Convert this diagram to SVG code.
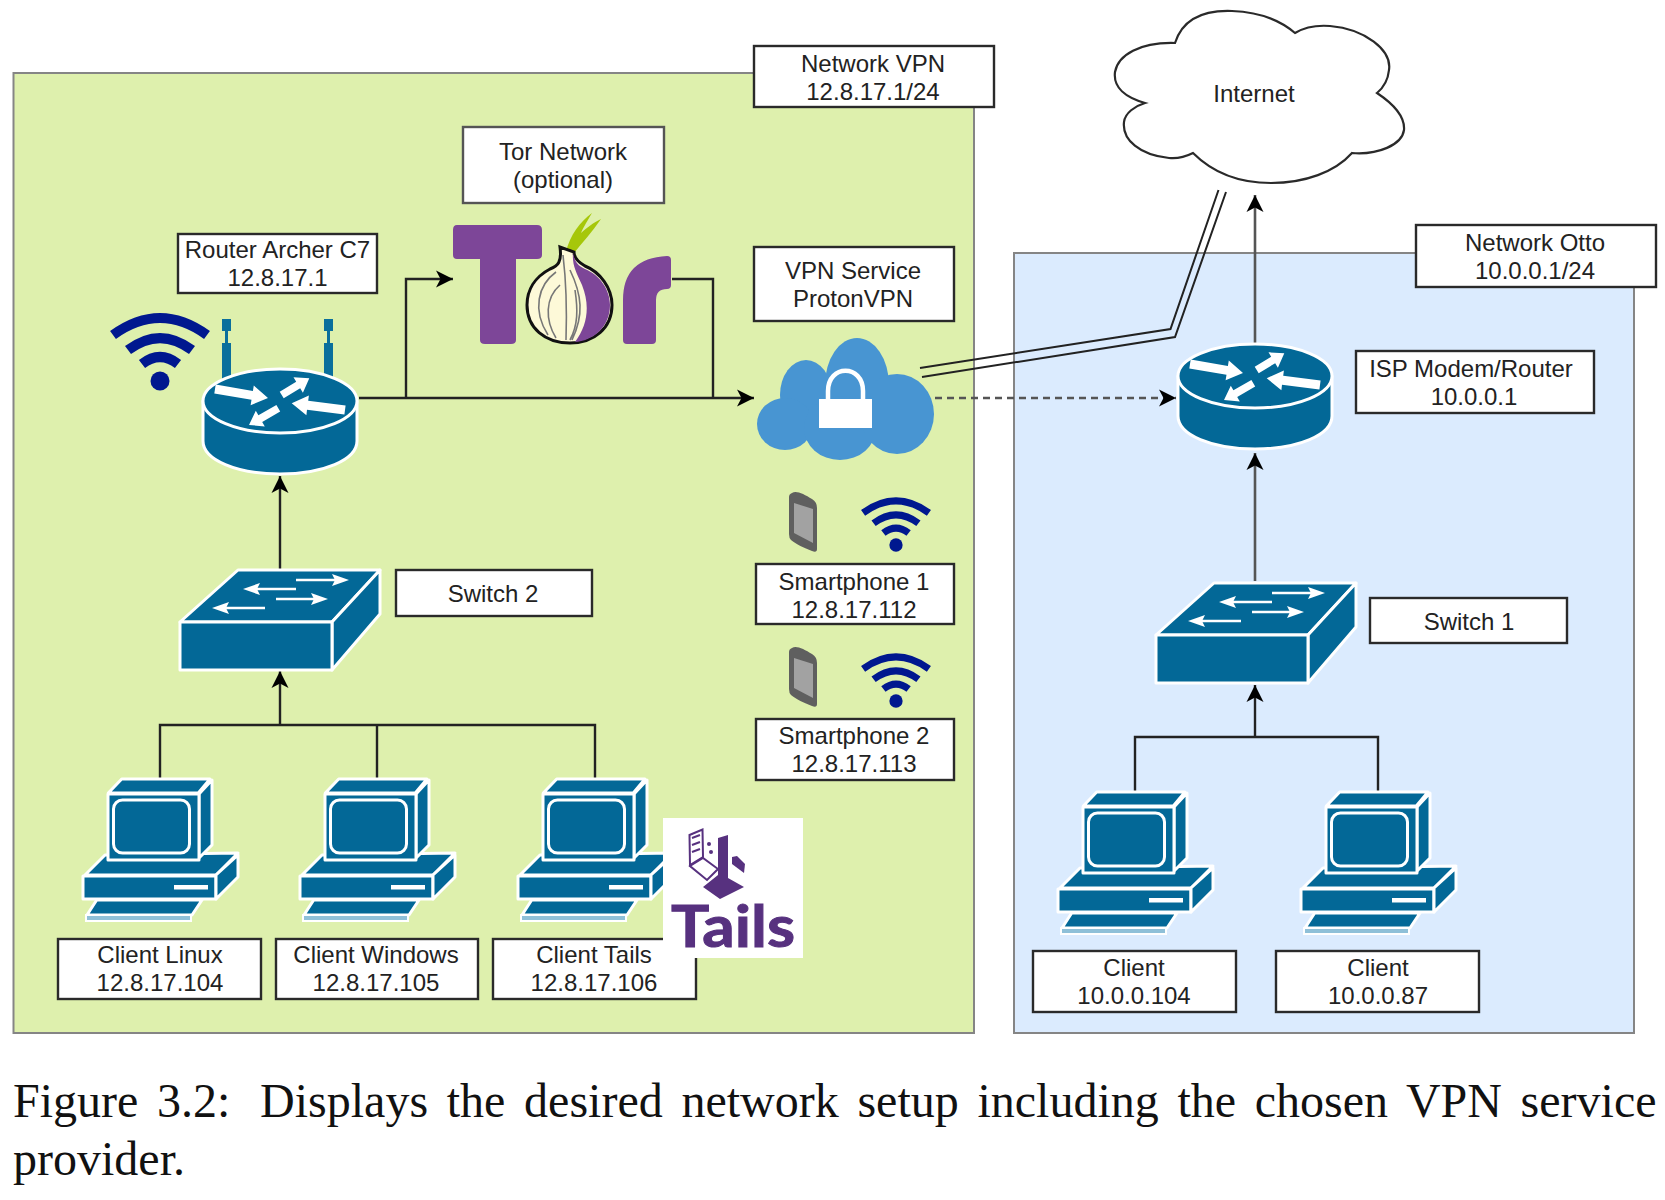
<svg xmlns="http://www.w3.org/2000/svg" width="1665" height="1200" viewBox="0 0 1665 1200">
<style>
.lbl{fill:#fff;stroke:#2a2a2a;stroke-width:2.4}
.lg{stroke:#555}
.t{font-family:"Liberation Sans",Arial,sans-serif;font-size:24px;fill:#222;text-anchor:middle}
.cap{font-family:"Liberation Serif","Times New Roman",serif;font-size:48px;fill:#111}
.ico{fill:#036897;stroke:#fff;stroke-width:3;stroke-linejoin:round}
.wh{fill:#fff}
.c{fill:none;stroke:#222;stroke-width:2.4}
.g{fill:none;stroke:#555;stroke-width:2.6}
.w{fill:none;stroke:#00188f;stroke-width:10}
</style>
<defs>
<marker id="ah" markerUnits="userSpaceOnUse" markerWidth="19" markerHeight="19" refX="17" refY="9" orient="auto"><path d="M17,9 L0,0.5 L4.500,9 L0,17.500 Z" fill="#000"/></marker>
<g id="antennas">
<rect x="222" y="319" width="9" height="12" fill="#0a6f9c"/><rect x="225" y="331" width="3" height="13" fill="#0a6f9c"/><rect x="222" y="343" width="9" height="36" fill="#0a6f9c"/>
<rect x="324" y="319" width="9" height="12" fill="#0a6f9c"/><rect x="327" y="331" width="3" height="13" fill="#0a6f9c"/><rect x="324" y="343" width="9" height="36" fill="#0a6f9c"/>
</g>
<g id="routerIcon">
<path class="ico" d="M203,401 V441 C203,460 237,474 280,474 C323,474 357,460 357,441 V401 Z"/>
<ellipse class="ico" cx="280" cy="401" rx="77" ry="32"/>
<polygon class="wh" points="215.700,384.600 252.900,391 253.800,385.500 268,398 250.600,405.300 251.500,399.800 214.300,393.400"/>
<polygon class="wh" points="279.700,391.800 296.200,381.800 293.500,377.300 309.300,378.300 302.900,392.700 300.200,388.200 283.700,398.200"/>
<polygon class="wh" points="345.600,405.500 308.200,400.800 308.900,395.400 291.700,403.300 306.400,415.200 307,409.800 344.400,414.500"/>
<polygon class="wh" points="276.400,405 258.400,415.300 255.800,410.800 249,425 264.800,426.400 262.200,421.900 280.200,411.600"/>
</g>
<g id="switchIcon">
<polygon class="ico" points="180,622 238,570 380,570 332,622"/>
<polygon class="ico" points="332,622 380,570 380,614 332,670"/>
<rect class="ico" x="180" y="622" width="152" height="48"/>
<path d="M296,580 H337 M296,589 H255 M276,599 H316 M265,608 H224" stroke="#fff" stroke-width="2.400" fill="none"/>
<polygon class="wh" points="349,580 332,574 335,580 332,586"/><polygon class="wh" points="243,589 260,583 257,589 260,595"/><polygon class="wh" points="328,599 311,593 314,599 311,605"/><polygon class="wh" points="212,608 229,602 226,608 229,614"/>
</g>
<g id="pcIcon">
<polygon class="ico" points="108.300,793 121.700,779 210,779 198.300,793"/>
<polygon class="ico" points="105,855 85,875 216,875 238,853"/>
<polygon class="ico" points="199,794 212,780 212,845 199,858"/>
<rect class="ico" x="108" y="794" width="91" height="66"/>
<rect x="113.500" y="800" width="76" height="53" rx="9" fill="none" stroke="#fff" stroke-width="3"/>
<rect class="ico" x="83" y="876" width="133" height="23"/>
<polygon class="ico" points="216,875 238,855 238,877 216,899"/>
<rect class="wh" x="174" y="885" width="34" height="4.500"/>
<polygon class="ico" points="96.700,900 202,900 192,915 87,915"/>
<rect x="86" y="915" width="105" height="6" fill="#8fc0d8" stroke="#fff" stroke-width="2"/>
</g>
<g id="wifiIcon">
<path class="w" d="M-47,-46 Q0,-80 47,-46"/><path class="w" d="M-32,-31 Q0,-55 32,-31"/><path class="w" d="M-18,-17 Q0,-31 18,-17"/><circle r="9.500" fill="#00188f"/>
</g>
<g id="phoneIcon">
<path d="M792,493 C796,490 804,494 812,499 Q817,502 817,508 V549 Q817,553 812,551 C804,548 796,544 791,540 Q789,538 789,534 V497 Q789,494 792,493 Z" fill="#5f5f5f"/>
<path d="M794,503 L813,509 V543 L794,533 Z" fill="#a2a2a2"/>
</g>
</defs>
<rect width="1665" height="1200" fill="#fff"/>
<g id="regions">
<rect x="13.500" y="73" width="960.500" height="960" fill="#def0ad" stroke="#858585" stroke-width="2"/>
<rect x="1014" y="253" width="620" height="780" fill="#dbebfe" stroke="#858585" stroke-width="2"/>
</g>
<g id="connectors">
<path class="c" d="M359,398 H754" marker-end="url(#ah)" stroke-width="3"/>
<path class="c" d="M406,398 V279 H453" marker-end="url(#ah)"/>
<path class="c" d="M672,279 H713 V398"/>
<path class="c" d="M280,570 V476" marker-end="url(#ah)"/>
<path class="c" d="M160,780 V725 H595 V780"/>
<path class="c" d="M377,780 V725"/>
<path class="c" d="M280,725 V671" marker-end="url(#ah)"/>
<path class="c" d="M1135,792 V737 H1378 V792"/>
<path class="c" d="M1255,737 V685" marker-end="url(#ah)" stroke-width="3"/>
<path class="g" d="M1255,581 V453" marker-end="url(#ah)"/>
<path class="g" d="M1255,345 V195" marker-end="url(#ah)"/>
<path class="g" d="M935,398 H1176" stroke-dasharray="7 5" marker-end="url(#ah)"/>
<path d="M920,368 L1170.500,329 L1218.500,190 M922,377 L1175,337 L1226,192" fill="none" stroke="#222" stroke-width="2"/>
</g>
<g id="internet">
<path d="M1175,43 C1183,18 1205,10 1232,11 C1258,12 1280,20 1295,33 C1305,27 1317,25 1330,26 C1365,29 1392,50 1389,70 C1388,80 1383,88 1377,93 C1395,105 1405,118 1404,130 C1402,145 1378,155 1352,153 C1335,172 1305,183 1271,183 C1235,183 1210,170 1193,153 C1185,157 1178,159 1169,158 C1140,155 1122,140 1124,122 C1125,113 1135,106 1145,103 C1125,97 1113,88 1115,72 C1118,55 1140,42 1175,43 Z" fill="#fff" stroke="#2a2a2a" stroke-width="2.200"/>
<text class="t" x="1254" y="102">Internet</text>
</g>
<g id="label-network-vpn"><rect class="lbl" x="754" y="46" width="240" height="61"/><text class="t" x="873" y="72">Network VPN</text><text class="t" x="873" y="100">12.8.17.1/24</text></g>
<g id="label-tor"><rect class="lbl lg" x="463" y="127" width="201" height="76"/><text class="t" x="563" y="160">Tor Network</text><text class="t" x="563" y="188">(optional)</text></g>
<g id="label-router"><rect class="lbl" x="178" y="234" width="199" height="59"/><text class="t" x="277.500" y="258">Router Archer C7</text><text class="t" x="277.500" y="286">12.8.17.1</text></g>
<g id="router-archer"><use href="#antennas"/><use href="#routerIcon"/></g>
<g id="router-wifi"><use href="#wifiIcon" transform="translate(160,381)"/></g>
<g id="tor-logo">
<path d="M457,225 H537 Q542,225 542,230 V255 Q542,259 537,259 H516 V340 Q516,344 511,344 H485 Q480,344 480,340 V259 H457 Q453,259 453,255 V230 Q453,225 457,225 Z" fill="#7d4698"/>
<path d="M623,340 V300 Q623,258 667,256 Q671,256 671,260 V285 Q671,289 667,289 Q656,289 656,300 V340 Q656,344 652,344 H627 Q623,344 623,340 Z" fill="#7d4698"/>
<path d="M566,252 C570,235 580,222 592,213 C585,225 583,228 581,233 C588,227 593,223 601,219 C592,232 582,243 574,253 Z" fill="#a6c70a"/>
<path d="M560,247 C562,262 558,266 550,269 C535,277 527,290 527,305 C527,328 545,343 570,343 C594,343 612,328 612,305 C612,288 600,272 585,266 C578,262 574,258 574,252 Z" fill="#fdf9d8" stroke="#111" stroke-width="3"/>
<path d="M573,253 C575,262 578,266 585,269 C600,275 610,290 610,305 C610,328 592,341 575,342 C588,325 590,305 582,285 C576,272 572,265 573,253 Z" fill="#7d4698"/>
<path d="M563,255 C566,280 567,310 566,340 M556,272 C538,285 532,310 548,335 M560,285 C545,298 545,320 556,338 M570,270 C582,295 584,315 572,340 M575,290 C578,310 578,325 570,340" fill="none" stroke="#777" stroke-width="1.600"/>
</g>
<g id="label-vpn-service"><rect class="lbl" x="754" y="247" width="200" height="74"/><text class="t" x="853" y="279">VPN Service</text><text class="t" x="853" y="307">ProtonVPN</text></g>
<g id="vpn-cloud" fill="#4895d2">
<ellipse cx="857" cy="385" rx="32" ry="47"/><ellipse cx="806" cy="395" rx="26" ry="35"/><ellipse cx="785" cy="424" rx="28" ry="26"/><ellipse cx="840" cy="428" rx="36" ry="32"/><ellipse cx="897" cy="414" rx="37" ry="40"/>
<rect x="819" y="399" width="53" height="29" fill="#fff"/>
<path d="M828,400 V391 C828,364 863,364 863,391 V400" fill="none" stroke="#fff" stroke-width="4.500"/>
</g>
<g id="smartphone-1"><use href="#phoneIcon"/><use href="#wifiIcon" transform="translate(896,545) scale(.7)"/></g>
<g id="label-smartphone-1"><rect class="lbl" x="756" y="564" width="198" height="60"/><text class="t" x="854" y="590">Smartphone 1</text><text class="t" x="854" y="618">12.8.17.112</text></g>
<g id="smartphone-2"><use href="#phoneIcon" transform="translate(0,155)"/><use href="#wifiIcon" transform="translate(896,701) scale(.7)"/></g>
<g id="label-smartphone-2"><rect class="lbl" x="756" y="719" width="198" height="61"/><text class="t" x="854" y="744">Smartphone 2</text><text class="t" x="854" y="772">12.8.17.113</text></g>
<g id="switch-2"><use href="#switchIcon"/></g>
<g id="label-switch-2"><rect class="lbl" x="396" y="570" width="196" height="46"/><text class="t" x="493" y="602">Switch 2</text></g>
<g id="client-linux"><use href="#pcIcon"/></g>
<g id="client-windows"><use href="#pcIcon" transform="translate(217,0)"/></g>
<g id="client-tails"><use href="#pcIcon" transform="translate(435,0)"/></g>
<g id="label-client-linux"><rect class="lbl" x="58" y="939" width="203" height="60"/><text class="t" x="160" y="963">Client Linux</text><text class="t" x="160" y="991">12.8.17.104</text></g>
<g id="label-client-windows"><rect class="lbl" x="276" y="939" width="202" height="60"/><text class="t" x="376" y="963">Client Windows</text><text class="t" x="376" y="991">12.8.17.105</text></g>
<g id="label-client-tails"><rect class="lbl" x="493" y="939" width="203" height="60"/><text class="t" x="594" y="963">Client Tails</text><text class="t" x="594" y="991">12.8.17.106</text></g>
<g id="tails-logo">
<rect x="663" y="818" width="140" height="140" fill="#fff"/>
<polygon points="703,887 718,875 718,838 728,835 728,878 744,887 720,899" fill="#57317f"/>
<polygon points="689.500,835 702.500,829.500 703,857 690,865" fill="#fff" stroke="#57317f" stroke-width="2"/>
<polygon points="690,866 703,858 718,869 707,880" fill="#fff" stroke="#57317f" stroke-width="2"/>
<path d="M692,838 L700,835 M692,845 L700,842 M692,852 L700,849" stroke="#57317f" stroke-width="2"/>
<circle cx="709" cy="844" r="2" fill="#57317f"/><circle cx="711" cy="852" r="2" fill="#57317f"/>
<polygon points="732,857 737,856 745,864 744,873 732,864" fill="#57317f"/>
<text x="671" y="947" font-family="Lato,'Open Sans',sans-serif" font-weight="700" font-size="58" fill="#57317f" stroke="#57317f" stroke-width="1" textLength="124" lengthAdjust="spacingAndGlyphs">Tails</text>
</g>
<g id="label-network-otto"><rect class="lbl" x="1416" y="225" width="240" height="62"/><text class="t" x="1535" y="251">Network Otto</text><text class="t" x="1535" y="279">10.0.0.1/24</text></g>
<g id="router-isp"><use href="#routerIcon" transform="translate(975,-25)"/></g>
<g id="label-isp"><rect class="lbl" x="1356" y="351" width="238" height="62"/><text class="t" x="1471" y="377">ISP Modem/Router</text><text class="t" x="1474" y="405">10.0.0.1</text></g>
<g id="switch-1"><use href="#switchIcon" transform="translate(976,13)"/></g>
<g id="label-switch-1"><rect class="lbl" x="1370" y="598" width="197" height="45"/><text class="t" x="1469" y="630">Switch 1</text></g>
<g id="client-1"><use href="#pcIcon" transform="translate(975,13)"/></g>
<g id="client-2"><use href="#pcIcon" transform="translate(1218,13)"/></g>
<g id="label-client-1"><rect class="lbl" x="1033" y="951" width="203" height="61"/><text class="t" x="1134" y="976">Client</text><text class="t" x="1134" y="1004">10.0.0.104</text></g>
<g id="label-client-2"><rect class="lbl" x="1276" y="951" width="203" height="61"/><text class="t" x="1378" y="976">Client</text><text class="t" x="1378" y="1004">10.0.0.87</text></g>
<g id="caption">
<text class="cap" x="13" y="1117" word-spacing="6.700">Figure 3.2: <tspan dx="11">Displays the desired network setup including the chosen VPN service</tspan></text>
<text class="cap" x="13" y="1175">provider.</text>
</g>
</svg>
